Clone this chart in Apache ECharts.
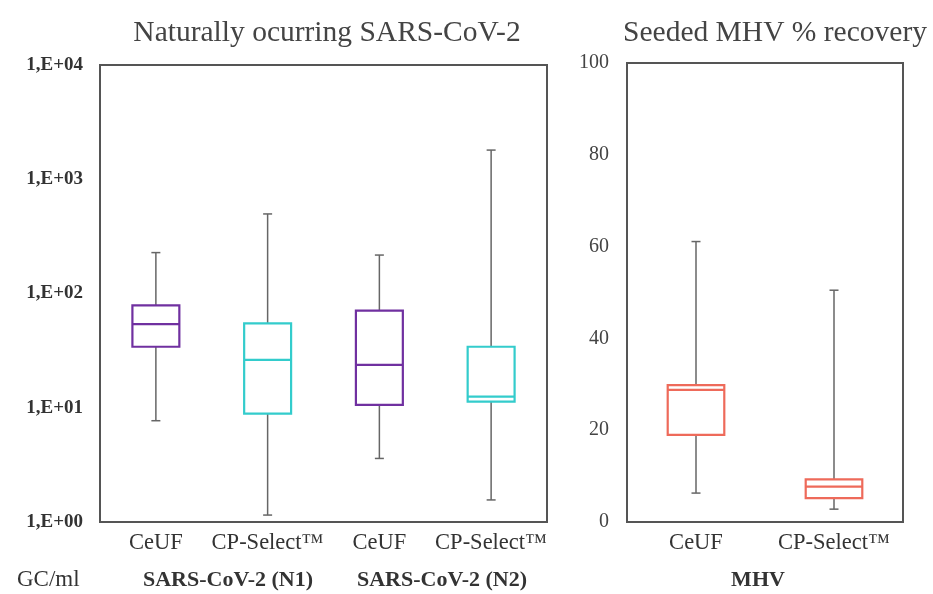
<!DOCTYPE html>
<html><head><meta charset="utf-8">
<script src="https://cdn.jsdelivr.net/npm/echarts@6/dist/echarts.min.js"></script>
<style>html,body{margin:0;padding:0;background:#fff}#c{width:933px;height:594px}</style>
</head><body><div id="c"></div>
<script>
const sarsCategories = ['CeUF', 'CP-Select™', 'CeUF', 'CP-Select™'];
const sarsGroups = ['SARS-CoV-2 (N1)', 'SARS-CoV-2 (N2)'];
// each: [min, q1, median, q3, max]
const sarsStats = [
  [7.7, 34.2, 54, 78.8, 228],
  [1.15, 8.9, 26.2, 54.8, 497],
  [3.6, 10.6, 23.7, 70.7, 217],
  [1.56, 11.3, 12.5, 34.2, 1800]
];
const sarsColors = ['#7030A0', '#33CCCC', '#7030A0', '#33CCCC'];
const logTickLabels = ['1,E+00', '1,E+01', '1,E+02', '1,E+03', '1,E+04'];
const mhvCategories = ['CeUF', 'CP-Select™'];
const mhvGroup = 'MHV';
const mhvStats = [
  [6.3, 19.0, 28.8, 29.8, 61.1],
  [2.8, 5.2, 7.7, 9.3, 50.5]
];
const mhvColors = ['#EE6A5A', '#EE6A5A'];
const unitLabel = 'GC/ml';

const FONT = '"Liberation Serif", "DejaVu Serif", serif';
const AXIS = '#555';
const WHISK = '#666';

function toData(stats) { return stats.map((s, i) => [i].concat(s)); }

function boxRenderer(colors, ratio) {
  return function (params, api) {
    const x = api.value(0);
    const pMin = api.coord([x, api.value(1)]);
    const pQ1 = api.coord([x, api.value(2)]);
    const pMed = api.coord([x, api.value(3)]);
    const pQ3 = api.coord([x, api.value(4)]);
    const pMax = api.coord([x, api.value(5)]);
    const band = api.size([1, 1])[0];
    const bw = band * ratio;
    const cx = pMed[0];
    const cap = 4.5;
    const color = colors[params.dataIndex];
    const wl = { stroke: WHISK, lineWidth: 1.5 };
    return {
      type: 'group',
      children: [
        { type: 'line', shape: { x1: cx, y1: pQ3[1], x2: cx, y2: pMax[1] }, style: wl },
        { type: 'line', shape: { x1: cx - cap, y1: pMax[1], x2: cx + cap, y2: pMax[1] }, style: wl },
        { type: 'line', shape: { x1: cx, y1: pQ1[1], x2: cx, y2: pMin[1] }, style: wl },
        { type: 'line', shape: { x1: cx - cap, y1: pMin[1], x2: cx + cap, y2: pMin[1] }, style: wl },
        { type: 'rect', shape: { x: cx - bw / 2, y: pQ3[1], width: bw, height: pQ1[1] - pQ3[1] },
          style: { fill: '#fff', stroke: color, lineWidth: 2.2 } },
        { type: 'line', shape: { x1: cx - bw / 2, y1: pMed[1], x2: cx + bw / 2, y2: pMed[1] },
          style: { stroke: color, lineWidth: 2.2 } }
      ]
    };
  };
}

const chart = echarts.init(document.getElementById('c'));
chart.setOption({
  backgroundColor: '#fff',
  animation: false,
  title: [
    { text: 'Naturally ocurring SARS-CoV-2', left: 322, top: 13, textAlign: 'center',
      textStyle: { fontFamily: FONT, fontSize: 29.5, fontWeight: 'normal', color: '#444' } },
    { text: 'Seeded MHV % recovery', left: 770, top: 13, textAlign: 'center',
      textStyle: { fontFamily: FONT, fontSize: 29.5, fontWeight: 'normal', color: '#444' } }
  ],
  grid: [
    { left: 100, top: 65, width: 447, height: 457, show: true, borderColor: AXIS, borderWidth: 2 },
    { left: 627, top: 63, width: 276, height: 459, show: true, borderColor: AXIS, borderWidth: 2 }
  ],
  xAxis: [
    { type: 'category', gridIndex: 0, data: sarsCategories,
      axisLine: { show: false }, axisTick: { show: false },
      axisLabel: { interval: 0, margin: 10, fontFamily: FONT, fontSize: 22.5, color: '#333' } },
    { type: 'category', gridIndex: 1, data: mhvCategories,
      axisLine: { show: false }, axisTick: { show: false },
      axisLabel: { interval: 0, margin: 10, fontFamily: FONT, fontSize: 22.5, color: '#333' } }
  ],
  yAxis: [
    { type: 'log', gridIndex: 0, logBase: 10, min: 1, max: 10000,
      axisLine: { show: false }, axisTick: { show: false }, splitLine: { show: false },
      axisLabel: { margin: 17, fontFamily: FONT, fontSize: 19, fontWeight: 'bold', color: '#333',
        formatter: v => logTickLabels[Math.round(Math.log10(v))] } },
    { type: 'value', gridIndex: 1, min: 0, max: 100, interval: 20,
      axisLine: { show: false }, axisTick: { show: false }, splitLine: { show: false },
      axisLabel: { margin: 18, fontFamily: FONT, fontSize: 20, color: '#444' } }
  ],
  series: [
    { type: 'custom', xAxisIndex: 0, yAxisIndex: 0, data: toData(sarsStats),
      encode: { x: 0, y: [1, 2, 3, 4, 5] }, renderItem: boxRenderer(sarsColors, 0.42) },
    { type: 'custom', xAxisIndex: 1, yAxisIndex: 1, data: toData(mhvStats),
      encode: { x: 0, y: [1, 2, 3, 4, 5] }, renderItem: boxRenderer(mhvColors, 0.41) }
  ],
  graphic: [
    { type: 'text', x: 17, y: 580,
      style: { text: unitLabel, align: 'left', verticalAlign: 'middle', fontFamily: FONT, fontSize: 23, fill: '#333' } },
    { type: 'text', x: 228, y: 580,
      style: { text: sarsGroups[0], align: 'center', verticalAlign: 'middle', fontFamily: FONT, fontSize: 22, fontWeight: 'bold', fill: '#333' } },
    { type: 'text', x: 442, y: 580,
      style: { text: sarsGroups[1], align: 'center', verticalAlign: 'middle', fontFamily: FONT, fontSize: 22, fontWeight: 'bold', fill: '#333' } },
    { type: 'text', x: 758, y: 580,
      style: { text: mhvGroup, align: 'center', verticalAlign: 'middle', fontFamily: FONT, fontSize: 22, fontWeight: 'bold', fill: '#333' } }
  ]
});
</script>
</body></html>
